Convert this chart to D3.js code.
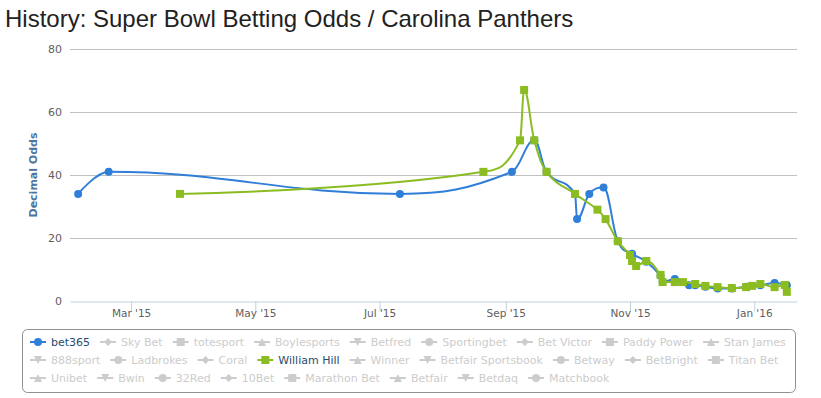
<!DOCTYPE html>
<html>
<head>
<meta charset="utf-8">
<script src="https://cdn.jsdelivr.net/npm/d3@7"></script>
<style>
  body { margin: 0; background: #fff; }
</style>
</head>
<body>
<div class="container"></div>
<script>
// odds history
var bet365Dates = ["2015-02-03", "2015-02-18", "2015-07-11", "2015-09-04", "2015-09-15", "2015-09-21",
    "2015-10-05", "2015-10-06", "2015-10-12", "2015-10-19", "2015-10-26", "2015-11-02", "2015-11-09",
    "2015-11-16", "2015-11-17", "2015-11-23", "2015-11-30", "2015-12-03", "2015-12-08", "2015-12-14",
    "2015-12-21", "2015-12-28", "2016-01-04", "2016-01-11", "2016-01-17"];
var bet365Odds = [34, 41, 34, 41, 51, 41, 34, 26, 34, 36, 19, 15, 12.5, 8, 6, 7, 5, 5, 4.5, 4, 4, 4.5, 5, 5.7, 5];

var hillDates = ["2015-03-25", "2015-08-21", "2015-09-08", "2015-09-10", "2015-09-15", "2015-09-21",
    "2015-10-05", "2015-10-16", "2015-10-20", "2015-10-26", "2015-11-01", "2015-11-02", "2015-11-04",
    "2015-11-09", "2015-11-16", "2015-11-17", "2015-11-23", "2015-11-27", "2015-12-03", "2015-12-08",
    "2015-12-14", "2015-12-21", "2015-12-28", "2015-12-31", "2016-01-04", "2016-01-11", "2016-01-16",
    "2016-01-17"];
var hillOdds = [34, 41, 51, 67, 51, 41, 34, 29, 26, 19, 14.6, 12.7, 11.1, 12.7, 8.3, 6, 6, 6, 5.4, 4.8,
    4.4, 4.1, 4.4, 4.8, 5.4, 4.4, 5.1, 2.9];

var xTicks = ["2015-03-01", "2015-05-01", "2015-07-01", "2015-09-01", "2015-11-01", "2016-01-01"];
var yTicks = [0, 20, 40, 60, 80];

var bookies = ["bet365", "Sky Bet", "totesport", "Boylesports", "Betfred", "Sportingbet", "Bet Victor",
    "Paddy Power", "Stan James", "888sport", "Ladbrokes", "Coral", "William Hill", "Winner",
    "Betfair Sportsbook", "Betway", "BetBright", "Titan Bet", "Unibet", "Bwin", "32Red", "10Bet",
    "Marathon Bet", "Betfair", "Betdaq", "Matchbook"];
var shownBookies = ["bet365", "William Hill"];
var symbolCycle = ["circle", "diamond", "square", "triangle", "triangle-down"];

(function() {
    var parseDate = d3.timeParse("%Y-%m-%d");
    var width = 821, height = 398;
    var plotLeft = 70, plotRight = 797, plotTop = 49, plotBottom = 301;

    var svg = d3.select(".container")
        .append("svg")
        .attr("width", width)
        .attr("height", height)
        .style("font-family", "'DejaVu Sans', Verdana, sans-serif");

    svg.append("text")
        .attr("x", 5)
        .attr("y", 27)
        .style("font-family", "'Liberation Sans', Arial, sans-serif")
        .style("font-size", "24px")
        .attr("fill", "#222")
        .text("History: Super Bowl Betting Odds / Carolina Panthers");

    var x = d3.scaleTime()
        .domain([parseDate("2015-01-30"), parseDate("2016-01-22")])
        .range([plotLeft, plotRight]);
    var y = d3.scaleLinear().domain([0, 80]).range([plotBottom, plotTop]);

    // grid
    svg.append("g").selectAll("line")
        .data(yTicks.filter(function(d) { return d > 0; }))
        .enter()
        .append("line")
        .attr("x1", plotLeft).attr("x2", plotRight)
        .attr("y1", function(d) { return Math.round(y(d)) + 0.5; })
        .attr("y2", function(d) { return Math.round(y(d)) + 0.5; })
        .attr("stroke", "#c0c0c0");

    var yAxis = svg.append("g")
        .attr("transform", "translate(" + plotLeft + ",0)")
        .call(d3.axisLeft(y).tickValues(yTicks).tickSize(0).tickPadding(8));
    yAxis.select(".domain").remove();
    yAxis.selectAll("text")
        .attr("fill", "#606060")
        .style("font-size", "11px")
        .style("font-family", "'DejaVu Sans', Verdana, sans-serif");

    var xAxis = svg.append("g")
        .attr("transform", "translate(0," + (plotBottom + 0.5) + ")")
        .call(d3.axisBottom(x)
            .tickValues(xTicks.map(parseDate))
            .tickFormat(d3.timeFormat("%b '%y"))
            .tickSize(10)
            .tickSizeOuter(0));
    xAxis.select(".domain").attr("stroke", "#c0d0e0");
    xAxis.selectAll(".tick line").attr("stroke", "#c0d0e0");
    xAxis.selectAll("text")
        .attr("y", 15)
        .attr("dy", 0)
        .attr("fill", "#606060")
        .style("font-size", "10.5px")
        .style("font-family", "'DejaVu Sans', Verdana, sans-serif");

    svg.append("text")
        .attr("transform", "translate(37,175) rotate(-90)")
        .attr("text-anchor", "middle")
        .attr("fill", "#4d759e")
        .style("font-size", "11px")
        .style("font-weight", "bold")
        .text("Decimal Odds");

    // Highcharts-style spline through the points
    function splinePath(pts) {
        var smoothing = 1.5, denom = smoothing + 1;
        var path = "";
        var lastRX = null, lastRY = null;
        for (var i = 0; i < pts.length; i++) {
            var px = pts[i][0], py = pts[i][1];
            var lcx = null, lcy = null, rcx = null, rcy = null;
            if (i > 0 && i < pts.length - 1) {
                var lx = pts[i - 1][0], ly = pts[i - 1][1];
                var nx = pts[i + 1][0], ny = pts[i + 1][1];
                lcx = (smoothing * px + lx) / denom;
                lcy = (smoothing * py + ly) / denom;
                rcx = (smoothing * px + nx) / denom;
                rcy = (smoothing * py + ny) / denom;
                var corr = ((rcy - lcy) * (rcx - px)) / (rcx - lcx) + py - rcy;
                lcy += corr;
                rcy += corr;
                if (lcy > ly && lcy > py) { lcy = Math.max(ly, py); rcy = 2 * py - lcy; }
                else if (lcy < ly && lcy < py) { lcy = Math.min(ly, py); rcy = 2 * py - lcy; }
                if (rcy > ny && rcy > py) { rcy = Math.max(ny, py); lcy = 2 * py - rcy; }
                else if (rcy < ny && rcy < py) { rcy = Math.min(ny, py); lcy = 2 * py - rcy; }
            }
            if (i === 0) {
                path += "M" + px + "," + py;
            } else {
                var prev = pts[i - 1];
                path += "C" + (lastRX !== null ? lastRX : prev[0]) + "," + (lastRY !== null ? lastRY : prev[1]) +
                    " " + (lcx !== null ? lcx : px) + "," + (lcy !== null ? lcy : py) +
                    " " + px + "," + py;
            }
            lastRX = rcx;
            lastRY = rcy;
        }
        return path;
    }

    function markerPath(symbol, r) {
        if (symbol === "circle") return d3.symbol(d3.symbolCircle, Math.PI * r * r)();
        if (symbol === "square") return "M" + (-r) + "," + (-r) + "h" + 2 * r + "v" + 2 * r + "h" + (-2 * r) + "Z";
        if (symbol === "diamond") return "M0," + (-r) + "L" + r + ",0L0," + r + "L" + (-r) + ",0Z";
        if (symbol === "triangle") return "M0," + (-r) + "L" + r + "," + r + "L" + (-r) + "," + r + "Z";
        return "M" + (-r) + "," + (-r) + "L" + r + "," + (-r) + "L0," + r + "Z";
    }

    function drawSeries(dates, odds, color, symbol) {
        var pts = dates.map(function(d, i) { return [x(parseDate(d)), y(odds[i])]; });
        var g = svg.append("g");
        g.append("path")
            .attr("d", splinePath(pts))
            .attr("fill", "none")
            .attr("stroke", color)
            .attr("stroke-width", 2)
            .attr("stroke-linejoin", "round");
        g.selectAll("path.marker")
            .data(pts)
            .enter()
            .append("path")
            .attr("class", "marker")
            .attr("transform", function(d) { return "translate(" + d[0] + "," + d[1] + ")"; })
            .attr("d", markerPath(symbol, 4))
            .attr("fill", color);
    }

    drawSeries(bet365Dates, bet365Odds, "#2f7ed8", "circle");
    drawSeries(hillDates, hillOdds, "#8bbc21", "square");

    // legend
    svg.append("rect")
        .attr("x", 22.5).attr("y", 329.5)
        .attr("width", 773).attr("height", 63)
        .attr("rx", 5).attr("ry", 5)
        .attr("fill", "none")
        .attr("stroke", "#909090");

    var seriesColor = { "bet365": "#2f7ed8", "William Hill": "#8bbc21" };
    var legend = svg.append("g");
    var lx = 30, ly = 342, rowH = 18, maxX = 790;
    bookies.forEach(function(name, i) {
        var shown = shownBookies.indexOf(name) >= 0;
        var col = shown ? seriesColor[name] : "#cccccc";
        var item = legend.append("g");
        var t = item.append("text")
            .attr("y", 4)
            .attr("x", 21)
            .style("font-size", "11px")
            .attr("fill", shown ? "#274b6d" : "#cccccc")
            .text(name);
        var w = 21 + t.node().getComputedTextLength();
        if (lx + w > maxX) {
            lx = 30;
            ly += rowH;
        }
        item.attr("transform", "translate(" + lx + "," + ly + ")");
        item.append("line")
            .attr("x1", 0).attr("x2", 16)
            .attr("y1", 0).attr("y2", 0)
            .attr("stroke", col)
            .attr("stroke-width", 2);
        item.append("path")
            .attr("transform", "translate(8,0)")
            .attr("d", markerPath(symbolCycle[i % 5], 4))
            .attr("fill", col);
        lx += w + 10;
    });
})();
</script>
</body>
</html>
